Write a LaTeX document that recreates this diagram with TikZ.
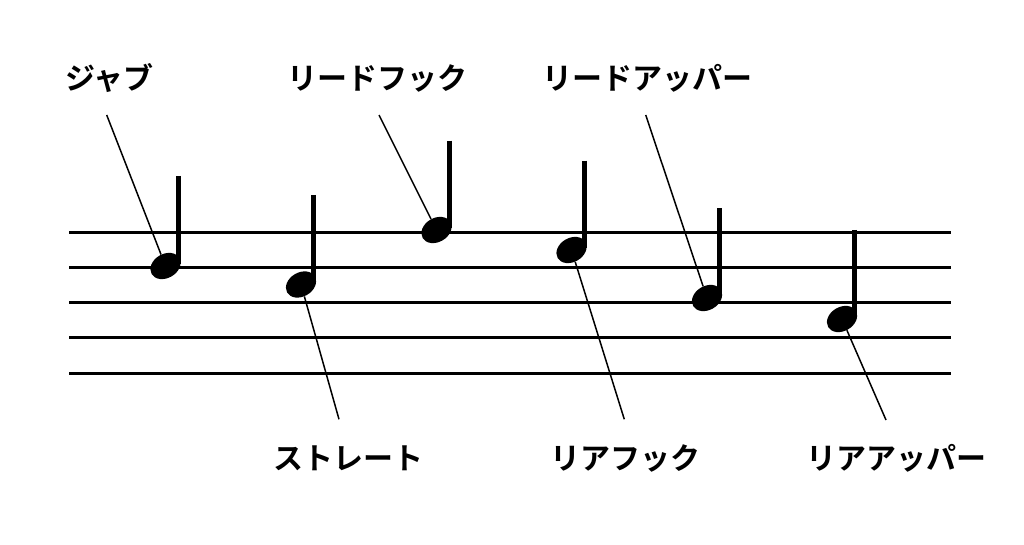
\documentclass[tikz,border=0pt]{standalone}
\usepackage{fontspec}
\newfontfamily\cjk{Noto Sans CJK JP}[BoldFont={Noto Sans CJK JP Bold}]
\usetikzlibrary{shapes.geometric}
\tikzset{
  staffline/.style={line width=3pt},
  stem/.style={line width=5pt},
  notehead/.style={ellipse, fill=black, minimum width=32pt, minimum height=24pt, inner sep=0pt, rotate=30},
  leader/.style={line width=1.5pt},
  lab/.style={font=\cjk\bfseries\fontsize{30}{32}\selectfont, inner sep=0pt}
}
\begin{document}
\begin{tikzpicture}[x=1pt,y=-1pt]
\useasboundingbox (0,0) rectangle (1024,545);
% staff
\foreach \yy in {232.3,267.3,302.3,337.5,373.3} \draw[staffline] (69,\yy) -- (950.5,\yy);
% labels
\node[lab] (l1) at (109.5,78) {ジャブ};
\node[lab] (l3) at (377,78) {リードフック};
\node[lab] (l5) at (647.5,78) {リードアッパー};
\node[lab] (l2) at (348.3,458) {ストレート};
\node[lab] (l4) at (625.8,458) {リアフック};
\node[lab] (l6) at (896.7,458) {リアアッパー};
% free ends of leaders
\coordinate (c1) at (106.7,115);
\coordinate (c2) at (339,419.3);
\coordinate (c3) at (379,115);
\coordinate (c4) at (624.3,419.3);
\coordinate (c5) at (645.7,115);
\coordinate (c6) at (886,420);
% notes
\foreach \n/\hx/\hy/\sx/\st in {1/165.5/266/178.5/176, 2/301/284.5/313.7/195, 3/436.5/230/449/140.7, 4/571.5/250/584/160.7, 5/707/298/719.7/208.3, 6/842/319/854.7/230}{
  \node[notehead] (h\n) at (\hx,\hy) {};
  \draw[stem] (\sx,\st) -- (\sx,\hy-2);
}
% leaders
\foreach \n in {1,...,6} \draw[leader] (c\n) -- (h\n);
\end{tikzpicture}
\end{document}
